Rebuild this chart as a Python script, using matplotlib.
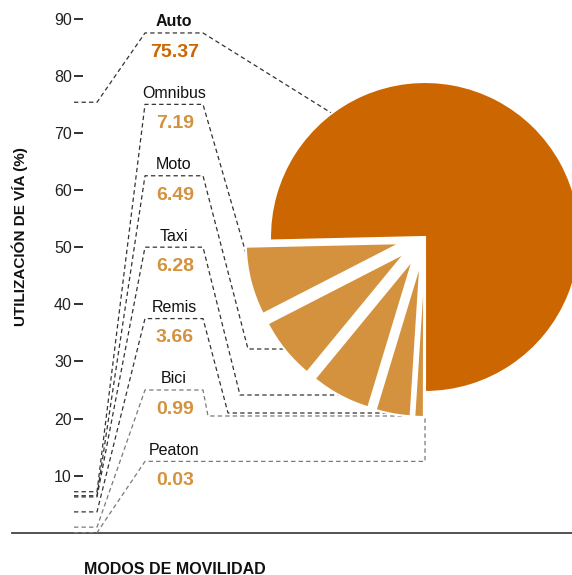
import numpy as np
import matplotlib.pyplot as plt

plt.rcParams['font.family'] = ['Liberation Sans', 'DejaVu Sans']

# datos
modos = ["Auto", "Omnibus", "Moto", "Taxi", "Remis", "Bici", "Peaton"]
uso = [75.37, 7.19, 6.49, 6.28, 3.66, 0.99, 0.03]
niveles = [87.5, 75, 62.5, 50, 37.5, 25, 12.5]
yticks = [10, 20, 30, 40, 50, 60, 70, 80, 90]

OSCURO = "#cc6600"
CLARO = "#d4923e"
LINEA = "#333333"
GRIS = "#7a7a7a"

W, H = 572, 575
K = 5.7125      # px por punto porcentual
Y0 = 532.8      # linea de base (px desde arriba)


def px(x):
    return x / K


def py(y):
    return (Y0 - y) / K


fig = plt.figure(figsize=(W / 100, H / 100), dpi=100)
ax = fig.add_axes([0, 0, 1, 1])

# torta con los modos chicos separados (explode va en unidades de datos)
centro = (px(425), py(237))
radio = 155 / K
explode = [0] + [25 / K] * (len(uso) - 1)
colores = [OSCURO] + [CLARO] * (len(uso) - 1)
wedges, _ = ax.pie(uso, explode=explode, colors=colores, startangle=-90,
                   counterclock=True, center=centro, radius=radio, frame=True,
                   wedgeprops=dict(edgecolor="white", linewidth=1.5))
for w in wedges:
    w.set_zorder(3)


def punto_arco(w, ang):
    cx, cy = w.center
    a = np.deg2rad(ang)
    return cx + w.r * np.cos(a), cy + w.r * np.sin(a)


def corte_horizontal(w, y):
    cx, cy = w.center
    return cx - np.sqrt(max(w.r ** 2 - (y - cy) ** 2, 0))


estilo = dict(lw=0.9, ls=(0, (3.5, 2.5)), zorder=2)

# codos de las guias del lado derecho (px)
codos = {"Moto": (248, 349), "Taxi": (240, 395), "Remis": (228, 413), "Bici": (208, 416)}

for i, (modo, v, lvl) in enumerate(zip(modos, uso, niveles)):
    color = GRIS if modo in ("Bici", "Peaton") else LINEA
    xs = [px(74), px(97), px(145), px(203)]
    ys = [v, v, lvl, lvl]
    w = wedges[i]
    if modo == "Auto":
        x2, y2 = punto_arco(w, 127)
        xs.append(x2); ys.append(y2)
    elif modo == "Omnibus":
        x2, y2 = punto_arco(w, 184)
        xs.append(x2); ys.append(y2)
    elif modo == "Peaton":
        xs += [px(425), px(425)]
        ys += [lvl, wedges[0].center[1] - wedges[0].r]
    else:
        cxp, cyp = codos[modo]
        yc = py(cyp)
        xs += [px(cxp), corte_horizontal(w, yc)]
        ys += [yc, yc]
    ax.plot(xs, ys, color=color, **estilo)

    # rotulos
    ax.text(px(174), lvl + 6.5 / K, modo, ha="center", va="baseline",
            fontsize=11.5, color="#111111",
            fontweight="bold" if modo == "Auto" else "normal")
    ax.text(px(175), lvl - 23.8 / K, f"{v:.2f}", ha="center", va="baseline",
            fontsize=14, fontweight="bold",
            color=OSCURO if modo == "Auto" else CLARO)

# linea de base
ax.axhline(0, xmin=12 / W, xmax=1, color="#444444", lw=1.3, zorder=1)

ax.set_xlim(0, W / K)
ax.set_ylim(py(H), py(0))

for s in ax.spines.values():
    s.set_visible(False)
ax.spines['left'].set_position(('data', px(83)))
ax.set_xticks([])
ax.set_yticks(yticks)
ax.tick_params(axis='y', direction='out', length=6.5, width=1.3,
               color="#222222", labelsize=11.5, labelcolor="#222222", pad=1.5)

ax.text(20 / W, 1 - 237 / H, "UTILIZACIÓN DE VÍA (%)", transform=ax.transAxes,
        rotation=90, ha="center", va="center", fontsize=11, fontweight="bold",
        color="#111111")
ax.text(175 / W, 1 - 569 / H, "MODOS DE MOVILIDAD", transform=ax.transAxes,
        ha="center", va="center", fontsize=11.5, fontweight="bold",
        color="#111111")

fig.savefig("out.png", dpi=100)
